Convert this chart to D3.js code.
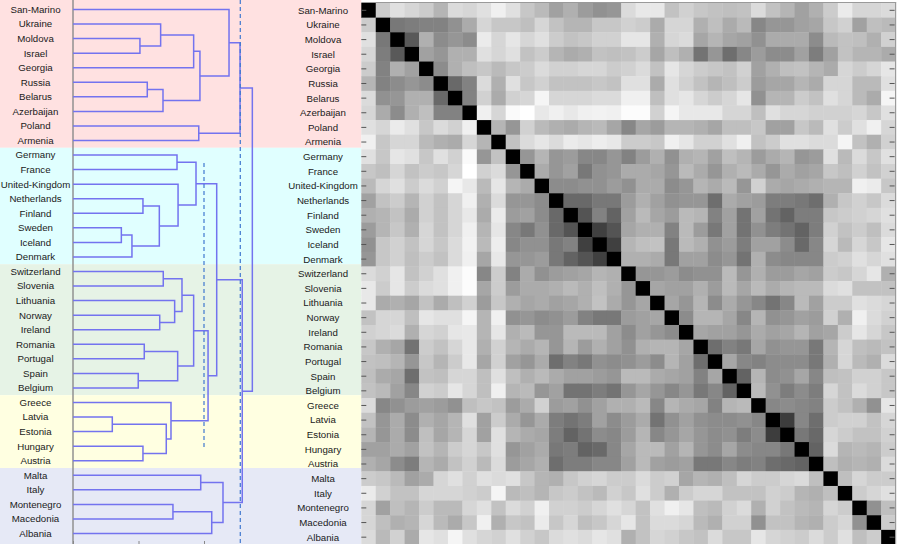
<!DOCTYPE html>
<html><head><meta charset="utf-8">
<script src="https://cdn.jsdelivr.net/npm/d3@7"></script>
<style>
body{margin:0;background:#fff}
svg{display:block}
text{font-family:"Liberation Sans",Arial,sans-serif;font-size:9.7px;fill:#1a1a1a}
</style></head>
<body><svg id="chart" width="899" height="544"></svg>
<script>
// ---------- data ----------
const countries = ["San-Marino","Ukraine","Moldova","Israel","Georgia","Russia","Belarus","Azerbaijan","Poland","Armenia",
  "Germany","France","United-Kingdom","Netherlands","Finland","Sweden","Iceland","Denmark",
  "Switzerland","Slovenia","Lithuania","Norway","Ireland","Romania","Portugal","Spain","Belgium",
  "Greece","Latvia","Estonia","Hungary","Austria",
  "Malta","Italy","Montenegro","Macedonia","Albania"];

// number of consecutive countries in each coloured cluster
const clusterSizes = [10, 8, 9, 5, 5];

// merge tree: [height, left, right]
const mergeTree = [1.369,
  [1.275,
    [1.191, "San-Marino",
      [0.969,
        [0.921, [0.669, "Ukraine", [0.511, "Moldova", "Israel"]], "Georgia"],
        [0.687, [0.567, "Russia", "Belarus"], "Azerbaijan"]]],
    [0.960, "Poland", "Armenia"]],
  [1.292,
    [1.097,
      [0.939, [0.794, "Germany", "France"],
        [0.802, "United-Kingdom",
          [0.659, [0.534, "Netherlands", "Finland"], [0.450, [0.369, "Sweden", "Iceland"], "Denmark"]]]],
      [1.031,
        [0.921,
          [0.832, [0.689, "Switzerland", "Slovenia"], [0.776, "Lithuania", [0.662, "Norway", "Ireland"]]],
          [0.799, [0.544, "Romania", "Portugal"], [0.498, "Spain", "Belgium"]]],
        [0.748, "Greece", [0.712, [0.300, "Latvia", "Estonia"], [0.534, "Hungary", "Austria"]]]]],
    [1.145, [0.975, "Malta", "Italy"], [1.059, [0.763, "Montenegro", "Macedonia"], "Albania"]]]];

// cut heights (leaf-index span; null = whole height)
const cutHeights = [1.0, 1.277];
const cutSpans = [[10.55, 30.1], null];
const axisTickValues = [0, 0.5, 1.0];

// dissimilarity (0 = identical, 100 = most different), upper triangle, row i holds columns i+1..36
const dissimUpper = [
 [80,88,84,80,71,86,84,88,94,88,78,73, 63,69,61,57,59,86,91,91,76,82,78,76,75, 76,86,76,71,63,69,80,92,84,84,86],
 [47,49,51,51,57,67,84,78,78,75,84, 76,71,71,78,78,82,80,67,84,84,69,75,67, 73,53,59,59,63,65,78,82,63,75,73],
 [35,69,55,59,55,92,84,90,84,88, 80,76,78,82,82,90,90,69,84,86,65,71,65, 63,57,67,67,67,55,73,76,75,69,82],
 [63,59,69,69,88,84,88,76,80, 71,67,69,76,75,76,80,65,75,69,45,59,43, 53,61,55,55,63,49,63,76,71,71,67],
 [55,69,75,78,73,78,80,86, 82,82,84,84,80,82,86,76,90,84,80,78,76, 82,63,69,75,76,71,67,84,80,84,90],
 [41,51,86,69,88,78,82, 76,76,76,78,76,88,88,67,88,82,76,71,75, 80,61,65,65,71,67,84,84,73,73,88],
 [51,82,67,82,84,96, 84,84,84,86,86,94,94,75,88,90,84,80,84, 90,57,71,71,80,76,88,84,73,67,96],
 [94,84,98,100,91, 94,91,94,95,94,99,99,82,96,91,91,91,84, 84,75,88,84,84,82,82,82,84,78,88],
 [71,59,82,73, 69,67,71,73,65,53,65,61,71,71,69,65,75, 75,78,63,63,78,73,88,80,88,94,84],
 [76,86,90, 86,92,90,93,91,80,80,78,94,90,82,82,88, 94,76,80,88,88,86,86,96,76,69,82],
 [59,71, 59,61,53,53,59,51,61,69,57,69,71,63,75, 71,61,67,71,59,61,88,73,86,78,88],
 [67, 59,63,47,57,59,67,67,65,59,73,67,59,69, 73,67,59,67,63,65,78,75,82,76,82],
 [55,55,57,57,61,57,67,67,55,59,71,67,73, 59,82,67,65,67,69,71,71,94,92,78],
 [41,41,47,47,61,69,63,57,59,59,43,67, 63,61,49,49,47,43,69,78,82,78,86],
 [33,51,39,63,73,65,61,73,71,51,63, 45,63,45,39,49,49,78,80,82,84,88],
 [25,33,65,69,69,51,73,61,47,63, 45,57,49,45,39,49,82,76,80,75,86],
 [25,71,75,76,47,73,69,57,61, 49,63,63,55,41,53,84,73,84,78,90],
 [69,69,67,47,63,63,55,59, 45,69,55,53,53,53,80,82,88,84,88],
 [59,59,61,55,57,57,73, 59,69,61,61,65,63,80,78,84,90,69],
 [65,63,63,69,61,73, 65,73,67,71,73,73,86,88,76,76,76],
 [65,59,71,55,67, 59,53,45,53,73,63,80,80,88,86,84],
 [55,71,71,65, 53,71,57,59,63,61,82,69,94,86,82],
 [65,63,63, 59,67,63,65,71,63,65,80,90,84,78],
 [43,51, 47,65,57,59,59,47,71,84,75,73,76],
 [65, 53,51,55,55,55,47,69,84,73,69,86],
 [39,71,55,57,65,53,75,76,82,82,78],
 [73,57,49,55,49,84,76,86,82,78],
 [53,55,53,51,80,76,69,57,90],
 [24,53,43,80,82,82,76,84],
 [47,41,84,80,76,76,82],
 [39,86,71,73,71,80],
 [75,69,71,69,86],
 [75,84,80,80],
 [80,84,88],
 [57,75],
 [80]
];

// ---------- styles ----------
const clusterColors = ["#ffe1e1","#e0ffff","#e6f3e6","#ffffe1","#e6e9f6"];
const W = 899, H = 544;

// ---------- build ----------
const n = countries.length;
const cells = [];
for (let i = 0; i < n; i++) {
  for (let j = 0; j < n; j++) {
    let v;
    if (i === j) v = 0;
    else if (j > i) v = dissimUpper[i][j - i - 1];
    else v = dissimUpper[j][i - j - 1];
    cells.push({row: countries[i], col: countries[j], v});
  }
}

const svg = d3.select("#chart");

const leafY = d3.scalePoint().domain(countries).range([9.5, 533.5]);
const hx = d3.scaleLinear().domain([0, 1]).range([73, 204]);
const hmX = d3.scaleBand().domain(countries).range([361.3, 895.6]);
const hmY = d3.scaleBand().domain(countries).range([3, 544.5]);
const shade = d3.scaleLinear().domain([0, 100]).range(["#000000", "#ffffff"]);
const step = leafY.step();

// cluster bands
let start = 0;
const bands = clusterSizes.map((s, k) => {
  const first = countries[start], last = countries[start + s - 1];
  const y0 = k === 0 ? 0 : leafY(first) - step / 2;
  const y1 = k === clusterSizes.length - 1 ? H : leafY(last) + step / 2;
  start += s;
  return {y0, y1, color: clusterColors[k]};
});
svg.append("g").selectAll("rect").data(bands).join("rect")
  .attr("x", 0).attr("width", hmX.range()[0])
  .attr("y", d => d.y0).attr("height", d => d.y1 - d.y0)
  .attr("fill", d => d.color);

// baseline axis line
svg.append("line")
  .attr("x1", hx(0)).attr("x2", hx(0)).attr("y1", 0).attr("y2", H)
  .attr("stroke", "#8a8a8a").attr("stroke-width", 1.4);

// dendrogram
const paths = [];
function layout(node) {
  if (typeof node === "string") return {x: hx(0), y: leafY(node)};
  const [h, a, b] = node;
  const A = layout(a), B = layout(b);
  const x = hx(h), y = (A.y + B.y) / 2;
  paths.push(`M${A.x},${A.y}H${x}V${B.y}H${B.x}`);
  return {x, y};
}
layout(mergeTree);
svg.append("g").selectAll("path").data(paths).join("path")
  .attr("d", d => d).attr("fill", "none")
  .attr("stroke", "#7373ef").attr("stroke-width", 1.5);

// cut lines
svg.append("g").selectAll("line").data(cutHeights).join("line")
  .attr("x1", d => hx(d)).attr("x2", d => hx(d))
  .attr("y1", (d, i) => cutSpans[i] ? leafY(countries[0]) + cutSpans[i][0] * step : 0)
  .attr("y2", (d, i) => cutSpans[i] ? leafY(countries[0]) + cutSpans[i][1] * step : H)
  .attr("stroke", "#3f78cf").attr("stroke-width", 1.2).attr("stroke-dasharray", "4,3");

// bottom ticks
const bAxis = svg.append("g").attr("transform", `translate(0,${H})`)
  .call(d3.axisTop(hx).tickValues(axisTickValues).tickSize(3).tickFormat(""));
bAxis.select(".domain").remove();
bAxis.selectAll("line").attr("stroke", "#888");

// left labels
svg.append("g").selectAll("text").data(countries).join("text")
  .attr("x", 35.5).attr("y", d => leafY(d)).attr("dy", "0.35em")
  .attr("text-anchor", "middle").text(d => d);

// right labels
svg.append("g").selectAll("text").data(countries).join("text")
  .attr("x", 323).attr("y", d => hmY(d) + hmY.bandwidth() / 2).attr("dy", "0.35em")
  .attr("text-anchor", "middle").text(d => d);

// heatmap
svg.append("g").selectAll("rect").data(cells).join("rect")
  .attr("x", d => hmX(d.col)).attr("y", d => hmY(d.row))
  .attr("width", hmX.bandwidth() + 0.4).attr("height", hmY.bandwidth() + 0.4)
  .attr("fill", d => shade(d.v));

// frame
const x0 = hmX.range()[0], x1 = hmX.range()[1], y0 = hmY.range()[0];
svg.append("line").attr("x1", x0).attr("x2", x1 + 0.5).attr("y1", y0 - 0.5).attr("y2", y0 - 0.5)
  .attr("stroke", "#9a9a9a").attr("stroke-width", 1.2);
svg.append("line").attr("x1", x1).attr("x2", x1).attr("y1", y0 - 1).attr("y2", H)
  .attr("stroke", "#9a9a9a").attr("stroke-width", 1.2);

// inward ticks on both sides
const lt = svg.append("g").attr("transform", `translate(${x0},0)`)
  .call(d3.axisRight(hmY).tickSize(5).tickFormat(""));
lt.select(".domain").remove();
lt.selectAll("line").attr("stroke", "#555");
const rt = svg.append("g").attr("transform", `translate(${x1 - 1},0)`)
  .call(d3.axisLeft(hmY).tickSize(5).tickFormat(""));
rt.select(".domain").remove();
rt.selectAll("line").attr("stroke", "#555");
</script>
</body></html>
